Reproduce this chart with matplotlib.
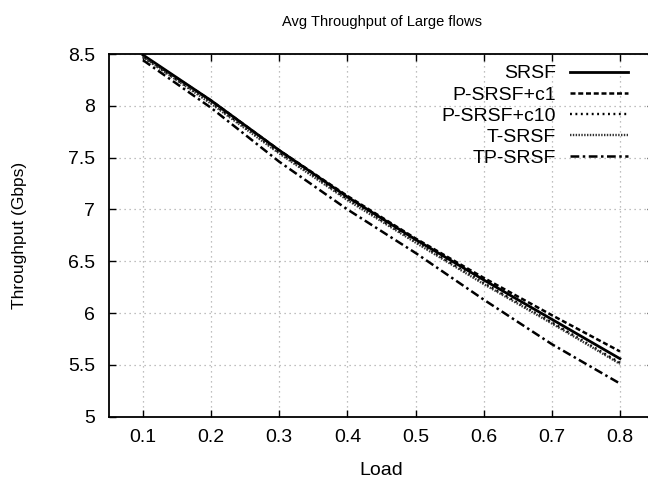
import matplotlib
matplotlib.use("Agg")
import matplotlib.pyplot as plt

plt.rcParams['font.family'] = ['Liberation Sans', 'DejaVu Sans']

load = [0.1, 0.2, 0.3, 0.4, 0.5, 0.6, 0.7, 0.8]
srsf = [8.49, 8.05, 7.57, 7.12, 6.71, 6.32, 5.94, 5.56]
p_srsf_c1 = [8.48, 8.05, 7.57, 7.13, 6.72, 6.34, 5.98, 5.63]
p_srsf_c10 = [8.47, 8.03, 7.55, 7.10, 6.69, 6.29, 5.91, 5.52]
t_srsf = [8.47, 8.02, 7.54, 7.09, 6.68, 6.28, 5.90, 5.51]
tp_srsf = [8.44, 7.98, 7.46, 7.00, 6.58, 6.13, 5.70, 5.32]
labels = ['SRSF', 'P-SRSF+c1', 'P-SRSF+c10', 'T-SRSF', 'TP-SRSF']
xticks = [0.1, 0.2, 0.3, 0.4, 0.5, 0.6, 0.7, 0.8]
yticks = [5, 5.5, 6, 6.5, 7, 7.5, 8, 8.5]
ytick_labels = ['5', '5.5', '6', '6.5', '7', '7.5', '8', '8.5']

fig = plt.figure(figsize=(6.48, 4.83), dpi=100)
ax = fig.add_axes([109/648, 1-416.7/483, 545/648, 362.7/483])

styles = [
    dict(ls='-', lw=2.0, color='black'),
    dict(ls=(0, (2.0, 1.1)), lw=1.8, color='black'),
    dict(ls=(0, (0.8, 1.5)), lw=1.7, color='black'),
    dict(ls=(0, (0.6, 0.6)), lw=1.7, color='#333333'),
    dict(ls=(0, (3.5, 1.4, 1, 1.4)), lw=1.8, color='black'),
]
series = [srsf, p_srsf_c1, p_srsf_c10, t_srsf, tp_srsf]
for ys, lab, st in zip(series, labels, styles):
    ax.plot(load, ys, label=lab, **st)

ax.set_xlim(0.05, 0.85)
ax.set_ylim(5, 8.5)
ax.set_xticks(xticks)
ax.set_xticklabels([f'{v:.1f}' for v in xticks])
ax.set_yticks(yticks)
ax.set_yticklabels(ytick_labels)
ax.tick_params(direction='in', length=5, width=1, labelsize=14,
               top=True, right=True)
ax.tick_params(axis='x', pad=9)
ax.tick_params(axis='y', pad=10)
ax.grid(True, ls=(0, (1, 3)), color='#aaaaaa', lw=0.9)
for s in ax.spines.values():
    s.set_linewidth(1.3)

ax.set_title('Avg Throughput of Large flows', fontsize=10.5, pad=20)
ax.set_xlabel('Load', fontsize=14)
ax.xaxis.set_label_coords(0.5, -0.125)
ax.set_ylabel('Throughput (Gbps)', fontsize=12.5)
ax.yaxis.set_label_coords(-0.150, 0.5)

leg = ax.legend(loc='upper right', bbox_to_anchor=(0.952, 0.97), frameon=False,
                markerfirst=False, fontsize=14, handlelength=2.95,
                labelspacing=0.18, handletextpad=0.75, borderaxespad=0.0,
                borderpad=0.0)

fig.savefig('out.png', dpi=100)
